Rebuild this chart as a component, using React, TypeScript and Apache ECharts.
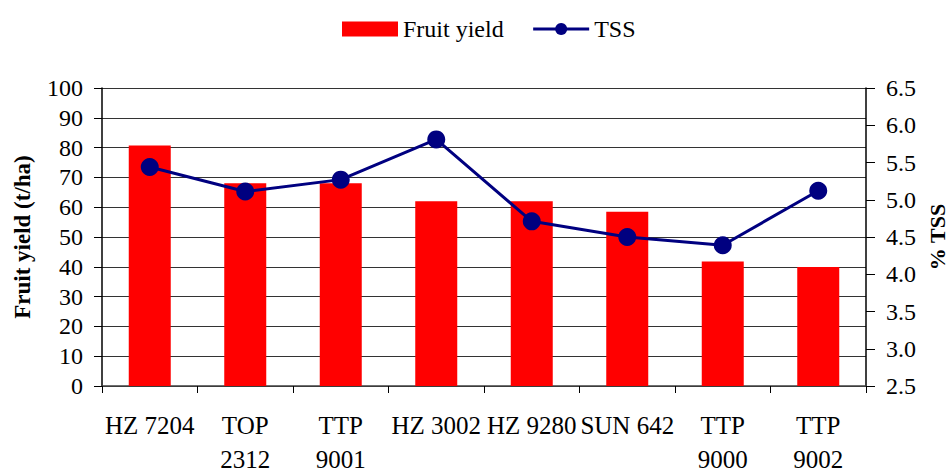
import React, { useEffect, useRef } from "react";
import * as echarts from "echarts";

const categories = ["HZ 7204", "TOP\n2312", "TTP\n9001", "HZ 3002", "HZ 9280", "SUN 642", "TTP\n9000", "TTP\n9002"];
const fruitYield = [80.7, 68.0, 68.0, 62.0, 62.0, 58.5, 41.8, 39.9];
const tss = [5.44, 5.11, 5.27, 5.81, 4.71, 4.5, 4.39, 5.12];

const FONT = "'Liberation Serif', 'Times New Roman', serif";

export default function App() {
  const ref = useRef<HTMLDivElement>(null);
  useEffect(() => {
    if (!ref.current) return;
    const chart = echarts.init(ref.current, undefined, { renderer: "svg" });
    chart.setOption({
      animation: false,
      backgroundColor: "#ffffff",
      textStyle: { fontFamily: FONT, color: "#000" },
      legend: {
        left: 337,
        top: 12,
        itemWidth: 56,
        itemHeight: 15,
        itemGap: 28,
        textStyle: { fontFamily: FONT, fontSize: 24, color: "#000" },
        data: [
          { name: "Fruit yield", icon: "rect" },
          { name: "TSS", itemStyle: { color: "#000080" }, lineStyle: { color: "#000080", width: 3 } },
        ],
      },
      grid: { left: 102, right: 83, top: 88, bottom: 85, outerBoundsMode: "none", containLabel: false },
      xAxis: {
        type: "category",
        data: categories,
        boundaryGap: true,
        axisLine: { show: true, lineStyle: { color: "#404040", width: 1.5 } },
        axisTick: { show: true, length: 7, lineStyle: { color: "#000" } },
        axisLabel: {
          interval: 0,
          fontFamily: FONT,
          fontSize: 25,
          color: "#000",
          lineHeight: 34,
          margin: 22,
        },
      },
      yAxis: [
        {
          type: "value",
          min: 0,
          max: 100,
          interval: 10,
          position: "left",
          name: "Fruit yield (t/ha)",
          nameLocation: "middle",
          nameGap: 68,
          nameRotate: 90,
          nameTextStyle: { fontFamily: FONT, fontSize: 23, fontWeight: "bold", color: "#000" },
          axisLine: { show: true, lineStyle: { color: "#000", width: 1.5 } },
          axisTick: { show: true, length: 8, lineStyle: { color: "#000" } },
          axisLabel: { fontFamily: FONT, fontSize: 24, color: "#000", margin: 19 },
          splitLine: { show: true, lineStyle: { color: "#333", width: 1.2 } },
        },
        {
          type: "value",
          min: 2.5,
          max: 6.5,
          interval: 0.5,
          position: "right",
          name: "% TSS",
          nameLocation: "middle",
          nameGap: 60,
          nameRotate: 90,
          nameTextStyle: { fontFamily: FONT, fontSize: 22, fontWeight: "bold", color: "#000", lineHeight: 22 },
          axisLine: { show: true, lineStyle: { color: "#000", width: 1.5 } },
          axisTick: { show: true, length: 9, lineStyle: { color: "#000" } },
          axisLabel: {
            fontFamily: FONT,
            fontSize: 24,
            color: "#000",
            margin: 20,
            formatter: (v: number) => v.toFixed(1),
          },
          splitLine: { show: false },
        },
      ],
      series: [
        {
          name: "Fruit yield",
          type: "bar",
          yAxisIndex: 0,
          data: fruitYield,
          barWidth: 42,
          itemStyle: { color: "#ff0000" },
        },
        {
          name: "TSS",
          type: "line",
          yAxisIndex: 1,
          data: tss,
          symbol: "circle",
          symbolSize: 18,
          lineStyle: { color: "#000080", width: 3 },
          itemStyle: { color: "#000080" },
        },
      ],
    });
    return () => chart.dispose();
  }, []);
  return <div ref={ref} style={{ width: 949, height: 471, position: "absolute", left: 0, top: 0 }} />;
}
